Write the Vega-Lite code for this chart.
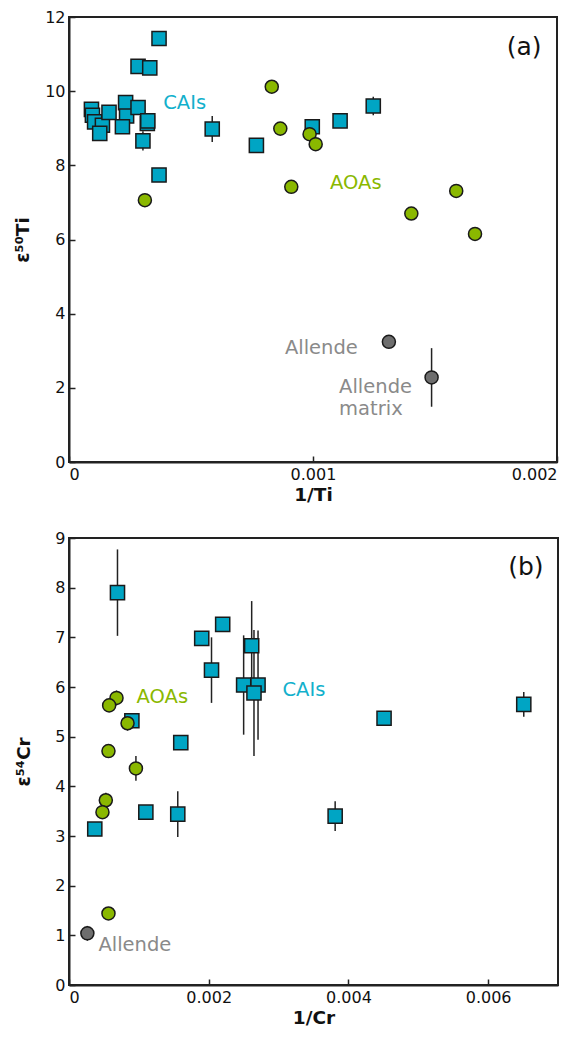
{
  "$schema": "https://vega.github.io/schema/vega-lite/v6.json",
  "padding": {"left": 12, "top": 8, "right": 5, "bottom": 5},
  "background": "white",
  "spacing": 76,
  "bounds": "flush",
  "config": {
    "view": {"stroke": "#222222", "strokeWidth": 2},
    "font": "DejaVu Sans",
    "axis": {
      "grid": false,
      "domainColor": "#222222",
      "domainWidth": 2,
      "tickColor": "#222222",
      "tickWidth": 1.5,
      "tickSize": -6,
      "labelFont": "DejaVu Sans",
      "labelFontSize": 16,
      "labelColor": "#111111",
      "labelPadding": 10,
      "titleFont": "DejaVu Sans",
      "titleFontSize": 18.5,
      "titleFontWeight": "bold",
      "titleColor": "#111111"
    }
  },
  "datasets": {
    "ti": [
      {"group": "CAI", "x": 0.000369, "y": 11.42},
      {"group": "CAI", "x": 0.000283, "y": 10.67},
      {"group": "CAI", "x": 0.000331, "y": 10.63},
      {"group": "CAI", "x": 0.000092, "y": 9.51},
      {"group": "CAI", "x": 0.000096, "y": 9.35},
      {"group": "CAI", "x": 0.000105, "y": 9.17},
      {"group": "CAI", "x": 0.000137, "y": 9.08},
      {"group": "CAI", "x": 0.000126, "y": 8.86},
      {"group": "CAI", "x": 0.000164, "y": 9.43},
      {"group": "CAI", "x": 0.000232, "y": 9.69, "lo": 9.52, "hi": 9.86},
      {"group": "CAI", "x": 0.000236, "y": 9.33},
      {"group": "CAI", "x": 0.000219, "y": 9.04},
      {"group": "CAI", "x": 0.000283, "y": 9.56},
      {"group": "CAI", "x": 0.000321, "y": 9.13},
      {"group": "CAI", "x": 0.000323, "y": 9.2, "lo": 9.05, "hi": 9.35},
      {"group": "CAI", "x": 0.000303, "y": 8.66, "lo": 8.4, "hi": 8.92},
      {"group": "CAI", "x": 0.000369, "y": 7.74},
      {"group": "CAI", "x": 0.000587, "y": 8.98, "lo": 8.63, "hi": 9.33},
      {"group": "CAI", "x": 0.000768, "y": 8.54},
      {"group": "CAI", "x": 0.000997, "y": 9.04},
      {"group": "CAI", "x": 0.001111, "y": 9.2, "lo": 9.1, "hi": 9.3},
      {"group": "CAI", "x": 0.001247, "y": 9.6, "lo": 9.35, "hi": 9.85},
      {"group": "AOA", "x": 0.000311, "y": 7.06},
      {"group": "AOA", "x": 0.000831, "y": 10.12},
      {"group": "AOA", "x": 0.000866, "y": 8.99},
      {"group": "AOA", "x": 0.000986, "y": 8.84},
      {"group": "AOA", "x": 0.001011, "y": 8.57},
      {"group": "AOA", "x": 0.000911, "y": 7.42},
      {"group": "AOA", "x": 0.001403, "y": 6.70},
      {"group": "AOA", "x": 0.001587, "y": 7.31},
      {"group": "AOA", "x": 0.001664, "y": 6.15},
      {"group": "Allende", "x": 0.001311, "y": 3.24},
      {"group": "Allende", "x": 0.001486, "y": 2.28, "lo": 1.49, "hi": 3.07}
    ],
    "tiLabels": [
      {"group": "CAI", "x": 0.000386, "y": 9.67, "text": "CAIs"},
      {"group": "AOA", "x": 0.00107, "y": 7.53, "text": "AOAs"},
      {"group": "Allende", "x": 0.000885, "y": 3.07, "text": "Allende"},
      {"group": "Allende", "x": 0.001107, "y": 2.03, "text": "Allende"},
      {"group": "Allende", "x": 0.001107, "y": 1.43, "text": "matrix"}
    ],
    "cr": [
      {"group": "CAI", "x": 0.000694, "y": 7.90, "lo": 7.03, "hi": 8.77},
      {"group": "CAI", "x": 0.00190, "y": 6.98, "lo": 6.86, "hi": 7.1},
      {"group": "CAI", "x": 0.00220, "y": 7.26, "lo": 7.16, "hi": 7.36},
      {"group": "CAI", "x": 0.00204, "y": 6.34, "lo": 5.68, "hi": 7.0},
      {"group": "CAI", "x": 0.002615, "y": 6.83, "lo": 5.93, "hi": 7.73},
      {"group": "CAI", "x": 0.00250, "y": 6.04, "lo": 5.04, "hi": 7.04},
      {"group": "CAI", "x": 0.002706, "y": 6.04, "lo": 4.94, "hi": 7.14},
      {"group": "CAI", "x": 0.002648, "y": 5.88, "lo": 4.61, "hi": 7.15},
      {"group": "CAI", "x": 0.00090, "y": 5.32, "lo": 5.2, "hi": 5.44},
      {"group": "CAI", "x": 0.00160, "y": 4.88},
      {"group": "CAI", "x": 0.00651, "y": 5.65, "lo": 5.4, "hi": 5.9},
      {"group": "CAI", "x": 0.00451, "y": 5.37, "lo": 5.25, "hi": 5.49},
      {"group": "CAI", "x": 0.000369, "y": 3.14},
      {"group": "CAI", "x": 0.00110, "y": 3.48},
      {"group": "CAI", "x": 0.001557, "y": 3.44, "lo": 2.98, "hi": 3.9},
      {"group": "CAI", "x": 0.00381, "y": 3.40, "lo": 3.1, "hi": 3.7},
      {"group": "AOA", "x": 0.00068, "y": 5.78, "lo": 5.63, "hi": 5.93},
      {"group": "AOA", "x": 0.000575, "y": 5.63},
      {"group": "AOA", "x": 0.000838, "y": 5.27, "lo": 5.12, "hi": 5.42},
      {"group": "AOA", "x": 0.000565, "y": 4.71},
      {"group": "AOA", "x": 0.000958, "y": 4.36, "lo": 4.11, "hi": 4.61},
      {"group": "AOA", "x": 0.000527, "y": 3.72, "lo": 3.57, "hi": 3.87},
      {"group": "AOA", "x": 0.000479, "y": 3.48},
      {"group": "AOA", "x": 0.000565, "y": 1.44},
      {"group": "Allende", "x": 0.000263, "y": 1.04, "lo": 0.89, "hi": 1.19}
    ],
    "crLabels": [
      {"group": "AOA", "x": 0.000967, "y": 5.80, "text": "AOAs"},
      {"group": "CAI", "x": 0.003056, "y": 5.94, "text": "CAIs"},
      {"group": "Allende", "x": 0.000421, "y": 0.80, "text": "Allende"}
    ]
  },
  "vconcat": [
    {
      "width": 488,
      "height": 445,
      "layer": [
        {
          "data": {"name": "ti"},
          "transform": [{"filter": "isValid(datum.lo)"}],
          "mark": {"type": "rule", "color": "#222222", "strokeWidth": 1.5},
          "encoding": {
            "x": {"field": "x", "type": "quantitative", "scale": {"domain": [0, 0.002]}},
            "y": {"field": "lo", "type": "quantitative", "scale": {"domain": [0, 12]}},
            "y2": {"field": "hi"}
          }
        },
        {
          "data": {"name": "ti"},
          "transform": [{"filter": "datum.group == 'CAI'"}],
          "mark": {"type": "point", "shape": "square", "filled": true, "size": 200, "color": "#00A5C4", "stroke": "#1a1a1a", "strokeWidth": 1.5, "opacity": 1},
          "encoding": {
            "x": {"field": "x", "type": "quantitative"},
            "y": {"field": "y", "type": "quantitative"}
          }
        },
        {
          "data": {"name": "ti"},
          "transform": [{"filter": "datum.group != 'CAI'"}],
          "mark": {"type": "point", "shape": "circle", "filled": true, "size": 170, "stroke": "#1a1a1a", "strokeWidth": 1.5, "opacity": 1},
          "encoding": {
            "x": {"field": "x", "type": "quantitative", "scale": {"domain": [0, 0.002]}, "axis": {"values": [0, 0.001, 0.002], "format": "~g", "title": "1/Ti", "titlePadding": 3}},
            "y": {"field": "y", "type": "quantitative", "scale": {"domain": [0, 12]}, "axis": {"values": [0, 2, 4, 6, 8, 10, 12], "title": "ε⁵⁰Ti", "titlePadding": 12}},
            "fill": {"field": "group", "type": "nominal", "scale": {"domain": ["AOA", "Allende"], "range": ["#8AB800", "#6E6E6E"]}, "legend": null}
          }
        },
        {
          "data": {"name": "tiLabels"},
          "mark": {"type": "text", "align": "left", "baseline": "middle", "fontSize": 19.5, "font": "DejaVu Sans"},
          "encoding": {
            "x": {"field": "x", "type": "quantitative"},
            "y": {"field": "y", "type": "quantitative"},
            "text": {"field": "text"},
            "color": {"field": "group", "type": "nominal", "scale": {"domain": ["CAI", "AOA", "Allende"], "range": ["#12B0CC", "#8AB800", "#8A8A8A"]}, "legend": null}
          }
        },
        {
          "data": {"values": [{"x": 0.001865, "y": 11.19, "text": "(a)"}]},
          "mark": {"type": "text", "align": "center", "baseline": "middle", "fontSize": 25, "font": "DejaVu Sans", "color": "#111111"},
          "encoding": {
            "x": {"field": "x", "type": "quantitative"},
            "y": {"field": "y", "type": "quantitative"},
            "text": {"field": "text"}
          }
        }
      ],
      "resolve": {"scale": {"color": "independent", "fill": "independent"}}
    },
    {
      "width": 489,
      "height": 447,
      "layer": [
        {
          "data": {"name": "cr"},
          "transform": [{"filter": "isValid(datum.lo)"}],
          "mark": {"type": "rule", "color": "#222222", "strokeWidth": 1.5},
          "encoding": {
            "x": {"field": "x", "type": "quantitative", "scale": {"domain": [0, 0.007]}},
            "y": {"field": "lo", "type": "quantitative", "scale": {"domain": [0, 9]}},
            "y2": {"field": "hi"}
          }
        },
        {
          "data": {"name": "cr"},
          "transform": [{"filter": "datum.group == 'CAI'"}],
          "mark": {"type": "point", "shape": "square", "filled": true, "size": 200, "color": "#00A5C4", "stroke": "#1a1a1a", "strokeWidth": 1.5, "opacity": 1},
          "encoding": {
            "x": {"field": "x", "type": "quantitative"},
            "y": {"field": "y", "type": "quantitative"}
          }
        },
        {
          "data": {"name": "cr"},
          "transform": [{"filter": "datum.group != 'CAI'"}],
          "mark": {"type": "point", "shape": "circle", "filled": true, "size": 170, "stroke": "#1a1a1a", "strokeWidth": 1.5, "opacity": 1},
          "encoding": {
            "x": {"field": "x", "type": "quantitative", "scale": {"domain": [0, 0.007]}, "axis": {"values": [0, 0.002, 0.004, 0.006], "format": "~g", "title": "1/Cr", "titlePadding": 3}},
            "y": {"field": "y", "type": "quantitative", "scale": {"domain": [0, 9]}, "axis": {"values": [0, 1, 2, 3, 4, 5, 6, 7, 8, 9], "title": "ε⁵⁴Cr", "titlePadding": 21}},
            "fill": {"field": "group", "type": "nominal", "scale": {"domain": ["AOA", "Allende"], "range": ["#8AB800", "#6E6E6E"]}, "legend": null}
          }
        },
        {
          "data": {"name": "crLabels"},
          "mark": {"type": "text", "align": "left", "baseline": "middle", "fontSize": 19.5, "font": "DejaVu Sans"},
          "encoding": {
            "x": {"field": "x", "type": "quantitative"},
            "y": {"field": "y", "type": "quantitative"},
            "text": {"field": "text"},
            "color": {"field": "group", "type": "nominal", "scale": {"domain": ["CAI", "AOA", "Allende"], "range": ["#12B0CC", "#8AB800", "#8A8A8A"]}, "legend": null}
          }
        },
        {
          "data": {"values": [{"x": 0.00654, "y": 8.41, "text": "(b)"}]},
          "mark": {"type": "text", "align": "center", "baseline": "middle", "fontSize": 25, "font": "DejaVu Sans", "color": "#111111"},
          "encoding": {
            "x": {"field": "x", "type": "quantitative"},
            "y": {"field": "y", "type": "quantitative"},
            "text": {"field": "text"}
          }
        }
      ],
      "resolve": {"scale": {"color": "independent", "fill": "independent"}}
    }
  ]
}
